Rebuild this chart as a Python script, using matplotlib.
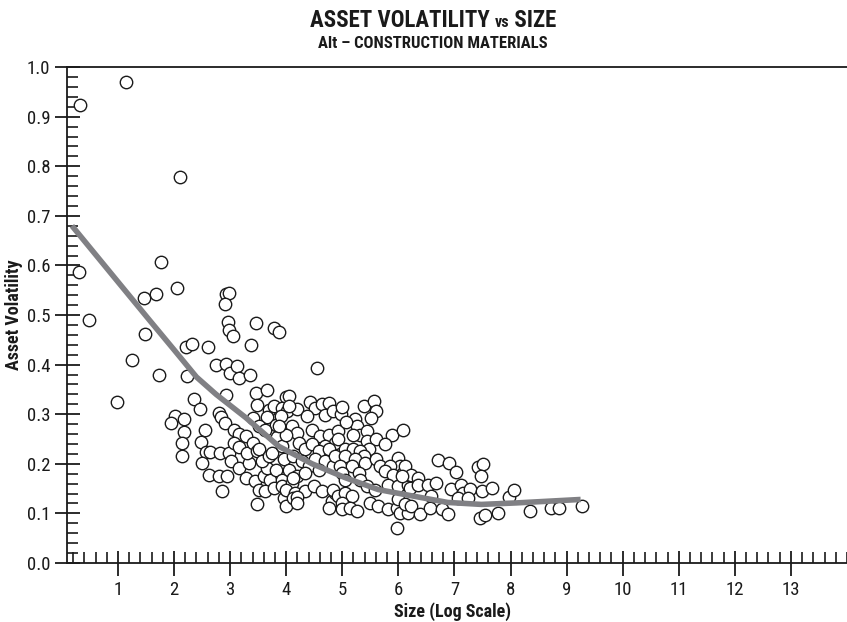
import matplotlib
matplotlib.use("Agg")
import matplotlib.pyplot as plt
from matplotlib.ticker import MultipleLocator, FixedLocator

FONT = ["Roboto Condensed", "Liberation Sans Narrow", "Roboto", "DejaVu Sans"]
INK = "#1a1a1a"
CURVE = "#808084"

# scatter: size (log scale) vs asset volatility
size_x = [
    0.33, 1.14, 2.11, 0.30, 0.48, 1.76, 1.47, 1.68, 2.06, 1.49, 1.25, 1.74, 0.98,
    2.22, 2.32, 2.60, 2.92, 2.98, 2.90, 2.97, 2.98, 3.05, 2.75, 2.92, 2.99, 3.13,
    3.16, 3.35, 2.24, 2.92, 2.35, 3.47, 3.78, 3.87, 3.37, 3.46, 3.66, 3.99, 2.46,
    3.48, 3.69, 3.78, 3.93, 4.02, 2.01, 2.18, 2.80, 2.83, 3.40, 3.66, 1.95, 2.18,
    2.14, 2.14, 2.56, 2.48, 2.91, 3.07, 3.16, 3.28, 2.57, 2.64, 2.82, 2.98, 3.07,
    3.16, 2.50, 2.63, 2.80, 2.95, 2.86, 3.01, 3.16, 3.34, 3.31, 3.40, 3.48, 3.28,
    3.45, 3.60, 3.72, 3.51, 3.63, 3.78, 3.48, 3.66, 3.81, 3.93, 3.51, 3.57, 3.69,
    3.93, 3.96, 3.99, 3.75, 3.84, 3.93, 3.81, 3.90, 4.55, 4.05, 4.43, 4.52, 4.64,
    4.76, 4.70, 4.84, 4.19, 4.37, 4.05, 4.10, 4.19, 3.99, 3.87, 4.46, 4.61, 4.76,
    4.87, 4.70, 4.22, 4.34, 4.46, 4.58, 3.96, 4.13, 4.28, 4.40, 4.52, 4.70, 4.84,
    4.05, 4.19, 4.34, 4.10, 3.99, 4.16, 4.34, 4.49, 4.64, 4.13, 4.81, 4.87, 4.76,
    5.38, 5.57, 5.61, 5.52, 5.23, 5.26, 5.32, 5.20, 5.44, 5.88, 6.09, 4.93, 4.93,
    5.44, 5.61, 5.76, 5.47, 5.05, 5.20, 5.32, 5.38, 4.76, 4.87, 5.05, 4.58, 5.23,
    5.40, 5.61, 5.67, 4.96, 5.17, 5.00, 5.29, 6.00, 6.03, 5.85, 5.76, 5.91, 6.09,
    5.82, 6.00, 6.18, 6.23, 5.05, 5.32, 5.44, 5.58, 4.13, 4.19, 4.84, 4.93, 5.05,
    5.17, 5.00, 5.00, 5.14, 5.26, 4.19, 5.50, 5.64, 5.82, 5.97, 6.03, 6.18, 5.97,
    6.12, 6.23, 6.35, 6.06, 6.21, 6.35, 6.53, 6.68, 6.59, 6.70, 6.91, 7.02, 7.42,
    7.51, 7.47, 6.93, 7.12, 7.15, 7.27, 7.06, 7.24, 7.49, 7.67, 7.98, 8.06, 6.00,
    6.12, 6.23, 6.38, 6.56, 6.77, 6.88, 7.45, 7.54, 7.77, 8.35, 8.72, 8.86, 9.27,
    3.51, 3.63, 4.97, 5.07, 5.00,
]
volatility = [
    0.924, 0.970, 0.779, 0.587, 0.491, 0.608, 0.535, 0.543, 0.554, 0.461, 0.409, 0.380, 0.325,
    0.436, 0.441, 0.436, 0.542, 0.545, 0.522, 0.485, 0.469, 0.457, 0.399, 0.401, 0.384, 0.397,
    0.374, 0.380, 0.377, 0.339, 0.330, 0.483, 0.473, 0.465, 0.440, 0.343, 0.348, 0.335, 0.311,
    0.318, 0.308, 0.316, 0.313, 0.306, 0.296, 0.290, 0.303, 0.295, 0.293, 0.295, 0.283, 0.264,
    0.242, 0.215, 0.269, 0.244, 0.283, 0.269, 0.261, 0.256, 0.223, 0.223, 0.222, 0.222, 0.242,
    0.234, 0.201, 0.178, 0.176, 0.175, 0.145, 0.205, 0.192, 0.202, 0.222, 0.242, 0.225, 0.172,
    0.165, 0.175, 0.168, 0.148, 0.145, 0.152, 0.118, 0.192, 0.188, 0.168, 0.229, 0.205, 0.215,
    0.155, 0.131, 0.114, 0.222, 0.253, 0.236, 0.279, 0.296, 0.394, 0.337, 0.324, 0.313, 0.320,
    0.322, 0.298, 0.306, 0.310, 0.296, 0.316, 0.276, 0.263, 0.259, 0.276, 0.269, 0.256, 0.259,
    0.242, 0.236, 0.242, 0.229, 0.239, 0.225, 0.209, 0.215, 0.205, 0.195, 0.209, 0.205, 0.195,
    0.188, 0.175, 0.182, 0.162, 0.148, 0.141, 0.145, 0.155, 0.145, 0.131, 0.124, 0.141, 0.111,
    0.316, 0.326, 0.306, 0.293, 0.290, 0.276, 0.259, 0.259, 0.266, 0.259, 0.269, 0.266, 0.249,
    0.246, 0.249, 0.239, 0.229, 0.229, 0.229, 0.225, 0.215, 0.229, 0.215, 0.215, 0.188, 0.209,
    0.202, 0.209, 0.195, 0.195, 0.195, 0.182, 0.182, 0.212, 0.195, 0.195, 0.185, 0.178, 0.182,
    0.158, 0.155, 0.158, 0.175, 0.168, 0.168, 0.155, 0.148, 0.172, 0.133, 0.148, 0.135, 0.141,
    0.135, 0.121, 0.108, 0.111, 0.104, 0.121, 0.121, 0.114, 0.108, 0.111, 0.101, 0.101, 0.071,
    0.195, 0.178, 0.172, 0.175, 0.152, 0.158, 0.158, 0.162, 0.135, 0.207, 0.201, 0.184, 0.194,
    0.199, 0.176, 0.150, 0.158, 0.141, 0.150, 0.131, 0.131, 0.145, 0.152, 0.133, 0.148, 0.128,
    0.118, 0.114, 0.098, 0.111, 0.108, 0.098, 0.091, 0.096, 0.100, 0.104, 0.111, 0.111, 0.114,
    0.276, 0.269, 0.300, 0.285, 0.315,
]

# fitted trend line
fit_x = [0.18, 1.0, 1.56, 2.0, 2.4, 2.75, 3.28, 3.87, 4.46, 5.05, 5.64, 6.35, 6.88, 7.48, 8.1, 9.25]
fit_y = [0.68, 0.567, 0.49, 0.43, 0.375, 0.340, 0.293, 0.235, 0.200, 0.172, 0.148, 0.133, 0.122, 0.118, 0.121, 0.128]

x_major = list(range(1, 14))
y_major = [0.0, 0.1, 0.2, 0.3, 0.4, 0.5, 0.6, 0.7, 0.8, 0.9, 1.0]

fig = plt.figure(figsize=(8.47, 6.22), dpi=100)
ax = fig.add_axes([0.079, 0.095, 0.921, 0.797])

ax.plot(fit_x, fit_y, "-", color=CURVE, linewidth=4.0, solid_capstyle="butt", zorder=3)
ax.scatter(size_x, volatility, s=80, facecolors="white", edgecolors=INK,
           linewidths=1.0, zorder=2)

ax.set_xlim(0.09, 14.0)
ax.set_ylim(0.0, 1.0)
ax.xaxis.set_major_locator(FixedLocator(x_major))
ax.xaxis.set_minor_locator(MultipleLocator(0.2))
ax.yaxis.set_major_locator(FixedLocator(y_major))
ax.yaxis.set_minor_locator(MultipleLocator(0.02))
ax.set_xticklabels([str(v) for v in x_major])
ax.set_yticklabels([f"{v:.1f}" for v in y_major])

ax.tick_params(which="major", direction="inout", length=18, width=1.3, color=INK,
               labelsize=13.5, pad=3)
ax.tick_params(which="minor", direction="in", length=8, width=1.2, color=INK)
ax.tick_params(axis="x", which="major", pad=4)
for lab in ax.get_xticklabels() + ax.get_yticklabels():
    lab.set_family(FONT)
    lab.set_color(INK)

ax.spines["right"].set_visible(False)
for s in ["top", "left", "bottom"]:
    ax.spines[s].set_linewidth(1.3)
    ax.spines[s].set_color(INK)

# title with a smaller "vs", laid out piece by piece around one centre
CX = 433
renderer = fig.canvas.get_renderer()
parts = [("ASSET VOLATILITY ", 16.5), ("vs", 11.5), (" SIZE", 16.5)]
texts = []
for s, fs in parts:
    texts.append(fig.text(0, 0.957, s, ha="left", va="baseline", fontsize=fs,
                          fontweight="bold", family=FONT, color=INK))
widths = [t.get_window_extent(renderer).width for t in texts]
x0 = CX - sum(widths) / 2
for t, w in zip(texts, widths):
    t.set_x(x0 / 847)
    x0 += w
fig.text(CX / 847, 0.923, "Alt \u2013 CONSTRUCTION MATERIALS", ha="center", va="baseline",
         fontsize=12, fontweight="bold", family=FONT, color=INK)

fig.text(452 / 847, 0.008, "Size (Log Scale)", ha="center", va="baseline", fontsize=13,
         fontweight="bold", family=FONT, color=INK)
fig.text(0.017, 0.494, "Asset Volatility", ha="center", va="center", rotation=90,
         fontsize=13, fontweight="bold", family=FONT, color=INK)

fig.savefig("out.png", dpi=100)
